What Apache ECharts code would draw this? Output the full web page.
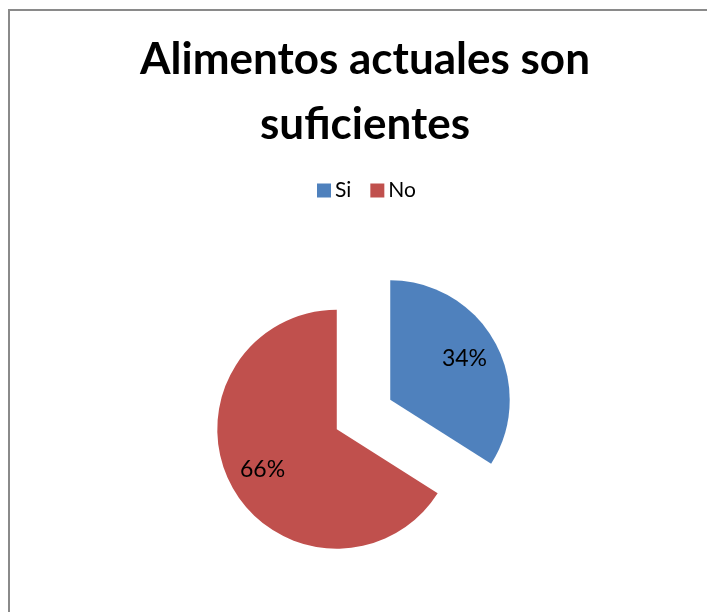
<!DOCTYPE html>
<html>
<head>
<meta charset="utf-8">
<script src="https://cdn.jsdelivr.net/npm/echarts@6/dist/echarts.min.js"></script>
<style>
html,body{margin:0;padding:0;background:#fff;}
#chart{width:707px;height:612px;}
</style>
</head>
<body>
<div id="chart"></div>
<script>
const titleText = 'Alimentos actuales son\nsuficientes';
const categories = ['Si', 'No'];
const values = [34, 66];
const colors = ['#4F81BD', '#C0504D'];

const chart = echarts.init(document.getElementById('chart'), null, {renderer: 'canvas'});

const mainData = categories.map((c, i) => ({
  name: c, value: values[i], selected: true,
  itemStyle: {color: colors[i]},
  select: {itemStyle: {color: colors[i], borderWidth: 0}}
}));
const labelData = categories.map((c, i) => ({
  name: c, value: values[i], selected: true
}));

const center = [363.5, 414.5];
const offset = 30.5;

chart.setOption({
  animation: false,
  backgroundColor: '#ffffff',
  graphic: [{
    type: 'line', silent: true,
    shape: {x1: 9, y1: 10, x2: 720, y2: 10},
    style: {stroke: '#8a8a8a', lineWidth: 2}
  }, {
    type: 'line', silent: true,
    shape: {x1: 9, y1: 9, x2: 9, y2: 620},
    style: {stroke: '#8a8a8a', lineWidth: 2}
  }],
  title: {
    text: titleText,
    left: 360, top: 22, textAlign: 'center',
    textStyle: {fontFamily: 'Lato', fontWeight: 'bold', fontSize: 44, lineHeight: 65, color: '#000'}
  },
  legend: {
    data: categories,
    left: 317, top: 180, padding: 0,
    itemWidth: 14, itemHeight: 14, itemGap: 19,
    icon: 'rect',
    selectedMode: false,
    textStyle: {fontFamily: 'Lato', fontSize: 21, lineHeight: 14, color: '#000', padding: [0, 0, 0, -1]}
  },
  series: [{
    type: 'pie',
    center: center, radius: [0, 119.5],
    startAngle: 90, clockwise: true,
    selectedMode: 'multiple', selectedOffset: offset,
    silent: true,
    label: {show: false}, labelLine: {show: false},
    emphasis: {disabled: true},
    data: mainData
  }, {
    type: 'pie',
    center: center, radius: [44, 119.5],
    startAngle: 90, clockwise: true,
    selectedMode: 'multiple', selectedOffset: offset,
    silent: true,
    itemStyle: {color: 'rgba(0,0,0,0)'},
    select: {itemStyle: {color: 'rgba(0,0,0,0)', borderWidth: 0}},
    label: {show: true, position: 'inside', formatter: '{d}%', fontFamily: 'Lato', fontSize: 23, color: '#000'},
    labelLine: {show: false},
    emphasis: {disabled: true},
    data: labelData
  }]
});
</script>
</body>
</html>
